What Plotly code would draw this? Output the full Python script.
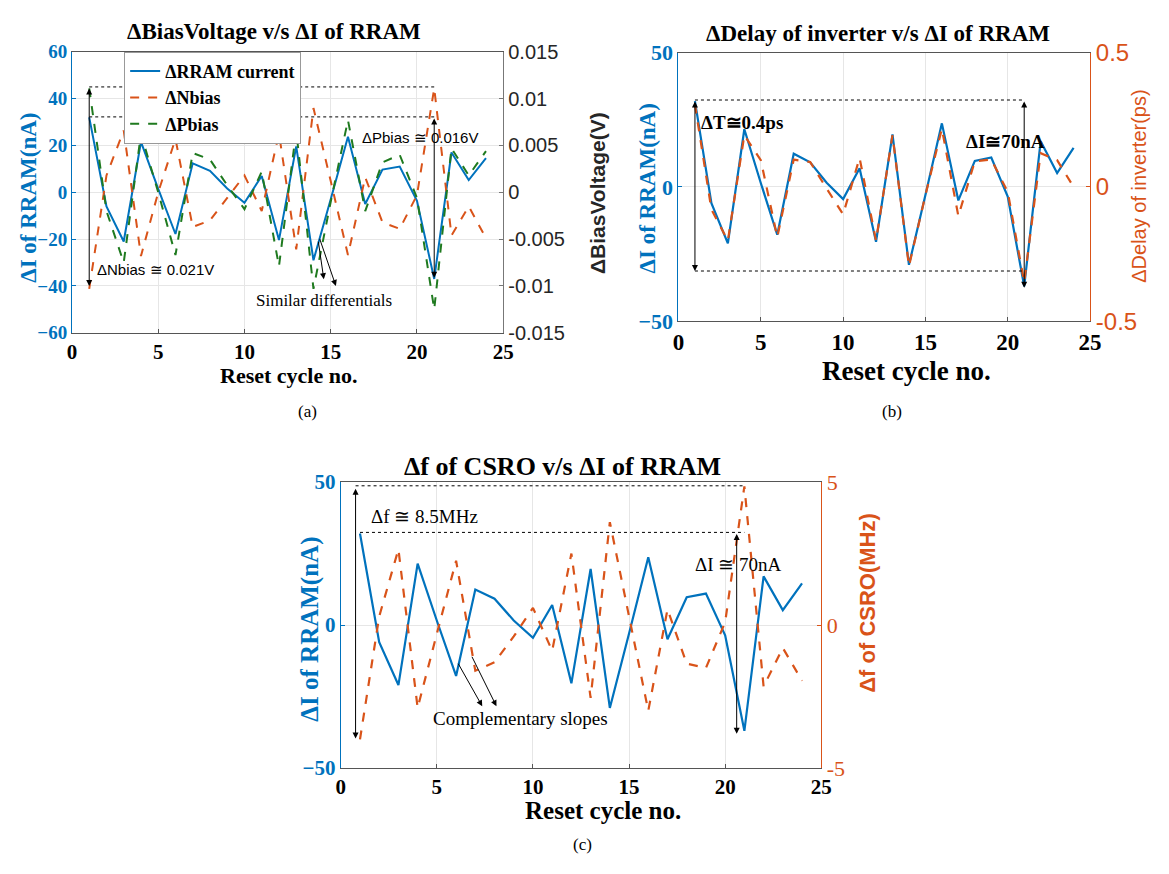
import plotly.graph_objects as go

# ---------------- data ----------------
cycles = list(range(1, 25))
rram_current = [32, -6, -21, 21.5, 1.5, -17.8, 12.4, 9.2, 1.6, -4.5, 7.0, -20.4,
                19.6, -29, -3, 23.7, -5, 9.7, 11, -3.6, -37, 17, 5.2, 14.6]
nbias = [-0.0103, 0.0018, 0.0066, -0.0068, 0.0, 0.0057, -0.0037, -0.0030, -0.0006,
         0.0018, -0.0020, 0.0063, -0.0061, 0.0090, 0.0012, -0.0067, 0.0016, -0.0032,
         -0.0039, -0.0003, 0.0111, -0.0046, -0.0015, -0.0049]
pbias = [0.0111, -0.0020, -0.0075, 0.00625, 0.0, -0.0067, 0.0042, 0.0035, 0.00075,
         -0.0018, 0.0022, -0.0079, 0.0066, -0.0103, -0.0010, 0.0077, -0.0020, 0.0032,
         0.0040, -0.0006, -0.0125, 0.0047, 0.0018, 0.0044]
delay_ps = [0.307, -0.084, -0.20, 0.193, 0.10, -0.187, 0.102, 0.093, -0.006, -0.102,
            0.108, -0.20, 0.193, -0.295, -0.03, 0.217, -0.108, 0.096, 0.102, -0.018,
            -0.355, 0.126, 0.10, 0.0]
freq_mhz = [-4.0, 0.3, 2.65, -2.9, -0.3, 2.25, -1.6, -1.3, -0.4, 0.6, -0.9, 2.5,
            -2.55, 3.6, 0.3, -3.0, 0.55, -1.35, -1.5, 0.1, 4.85, -2.15, -0.8, -1.95]

BLUE = "#0072BD"
ORANGE = "#D95319"
GREEN = "#1f7a1f"
SERIF = "Liberation Serif, Times New Roman, serif"
SANS = "Liberation Sans, Arial, sans-serif"
W, H = 1169, 874


def px(x):
    return x / W


def py(y):
    return 1 - y / H


fig = go.Figure()

# panel (a)
fig.add_trace(go.Scatter(x=cycles, y=rram_current, mode="lines", name="ΔRRAM current",
                         line=dict(color=BLUE, width=2), xaxis="x", yaxis="y"))
fig.add_trace(go.Scatter(x=cycles, y=nbias, mode="lines", name="ΔNbias",
                         line=dict(color=ORANGE, width=2, dash="dash"), xaxis="x", yaxis="y2"))
fig.add_trace(go.Scatter(x=cycles, y=pbias, mode="lines", name="ΔPbias",
                         line=dict(color=GREEN, width=2, dash="dash"), xaxis="x", yaxis="y2"))
# panel (b)
fig.add_trace(go.Scatter(x=cycles, y=rram_current, mode="lines", showlegend=False,
                         line=dict(color=BLUE, width=2.2), xaxis="x2", yaxis="y3"))
fig.add_trace(go.Scatter(x=cycles, y=delay_ps, mode="lines", showlegend=False,
                         line=dict(color=ORANGE, width=2.2, dash="dash"), xaxis="x2", yaxis="y4"))
# panel (c)
fig.add_trace(go.Scatter(x=cycles, y=rram_current, mode="lines", showlegend=False,
                         line=dict(color=BLUE, width=2.2), xaxis="x3", yaxis="y5"))
fig.add_trace(go.Scatter(x=cycles, y=freq_mhz, mode="lines", showlegend=False,
                         line=dict(color=ORANGE, width=2.2, dash="dash"), xaxis="x3", yaxis="y6"))

GRID = "#e6e6e6"
dom_a = dict(x=[px(67), px(505)], y=[py(329), py(39)])
dom_b = dict(x=[px(683), px(1101)], y=[py(317), py(40)])
dom_c = dict(x=[px(340), px(828)], y=[py(778), py(483)])


def xax(dom, anchor, size):
    return dict(domain=dom, anchor=anchor, range=[0, 25], dtick=5, tick0=0,
                showgrid=True, gridcolor=GRID, zeroline=False,
                showline=True, linecolor="#555", mirror=True, linewidth=1,
                ticks="inside", ticklen=4, tickcolor="#555",
                tickfont=dict(family=SERIF, size=size, color="black", weight="bold"))


fig.update_layout(
    width=W, height=H, margin=dict(l=0, r=0, t=0, b=0),
    paper_bgcolor="white", plot_bgcolor="white",
    xaxis=xax(dom_a["x"], "y", 21),
    yaxis=dict(domain=dom_a["y"], anchor="x", range=[-60, 60], dtick=20,
               showgrid=True, gridcolor=GRID, zeroline=False,
               showline=True, linecolor=BLUE, linewidth=1, ticks="inside", ticklen=4,
               tickcolor=BLUE,
               tickfont=dict(family=SERIF, size=19, color=BLUE, weight="bold")),
    yaxis2=dict(overlaying="y", anchor="x", side="right", range=[-0.015, 0.015],
                tickvals=[-0.015, -0.01, -0.005, 0, 0.005, 0.01, 0.015],
                ticktext=["-0.015", "-0.01", "-0.005", "0", "0.005", "0.01", "0.015"],
                showgrid=False, zeroline=False, showline=True, linecolor="#777",
                ticks="inside", ticklen=4, tickcolor="#777",
                tickfont=dict(family=SANS, size=20, color="#262626")),
    xaxis2=xax(dom_b["x"], "y3", 23),
    yaxis3=dict(domain=dom_b["y"], anchor="x2", range=[-50, 50], dtick=50,
                showgrid=True, gridcolor=GRID, zeroline=False,
                showline=True, linecolor=BLUE, linewidth=1, ticks="inside", ticklen=4,
                tickcolor=BLUE,
                tickfont=dict(family=SERIF, size=22, color=BLUE, weight="bold")),
    yaxis4=dict(overlaying="y3", anchor="x2", side="right", range=[-0.5, 0.5],
                tickvals=[-0.5, 0, 0.5], ticktext=["-0.5", "0", "0.5"],
                showgrid=False, zeroline=False, showline=True, linecolor=ORANGE,
                ticks="inside", ticklen=4, tickcolor=ORANGE,
                tickfont=dict(family=SANS, size=24, color=ORANGE)),
    xaxis3=xax(dom_c["x"], "y5", 21),
    yaxis5=dict(domain=dom_c["y"], anchor="x3", range=[-50, 50], dtick=50,
                showgrid=True, gridcolor=GRID, zeroline=False,
                showline=True, linecolor=BLUE, linewidth=1, ticks="inside", ticklen=4,
                tickcolor=BLUE,
                tickfont=dict(family=SERIF, size=21, color=BLUE, weight="bold")),
    yaxis6=dict(overlaying="y5", anchor="x3", side="right", range=[-5, 5],
                tickvals=[-5, 0, 5], ticktext=["-5", "0", "5"],
                showgrid=False, zeroline=False, showline=True, linecolor=ORANGE,
                ticks="inside", ticklen=4, tickcolor=ORANGE,
                tickfont=dict(family=SERIF, size=22, color=ORANGE)),
    legend=dict(x=px(120), y=py(39), xanchor="left", yanchor="top",
                bgcolor="white", bordercolor="#999", borderwidth=1,
                font=dict(family=SERIF, size=18, color="black", weight="bold"),
                itemwidth=30, tracegroupgap=0),
)

ann = []


def text(x, y, t, font, xref="paper", yref="paper", angle=0, xanchor="center"):
    ann.append(dict(x=x, y=y, xref=xref, yref=yref, text=t, showarrow=False,
                    font=font, textangle=angle, xanchor=xanchor, yanchor="middle"))


def arrow(x0, y0, x1, y1, xr, yr, both=False):
    ann.append(dict(x=x1, y=y1, ax=x0, ay=y0, xref=xr, yref=yr, axref=xr, ayref=yr,
                    text="", showarrow=True, arrowhead=2, arrowsize=1.2, arrowwidth=1,
                    arrowcolor="black", arrowside="end+start" if both else "end"))


# titles
text(px(272), py(18), "ΔBiasVoltage v/s ΔI of RRAM", dict(family=SERIF, size=23, color="black", weight="bold"))
text(px(886), py(20), "ΔDelay of inverter v/s ΔI of RRAM", dict(family=SERIF, size=23, color="black", weight="bold"))
text(px(565), py(467), "Δf of CSRO v/s ΔI of RRAM", dict(family=SERIF, size=26, color="black", weight="bold"))

# x axis titles
text(px(287), py(373), "Reset cycle no.", dict(family=SERIF, size=22, color="black", weight="bold"))
text(px(915), py(368), "Reset cycle no.", dict(family=SERIF, size=27, color="black", weight="bold"))
text(px(606), py(822), "Reset cycle no.", dict(family=SERIF, size=25, color="black", weight="bold"))

# left y titles
text(px(22), py(190), "ΔI of RRAM(nA)", dict(family=SERIF, size=23, color=BLUE, weight="bold"), angle=-90)
text(px(651), py(180), "ΔI of RRAM(nA)", dict(family=SERIF, size=23, color=BLUE, weight="bold"), angle=-90)
text(px(309), py(635), "ΔI of RRAM(nA)", dict(family=SERIF, size=25, color=BLUE, weight="bold"), angle=-90)

# right y titles
text(px(601), py(185), "ΔBiasVoltage(V)", dict(family=SANS, size=21, color="#262626", weight="bold"), angle=-90)
text(px(1150), py(178), "ΔDelay of inverter(ps)", dict(family=SANS, size=20, color=ORANGE), angle=-90)
text(px(875), py(608), "Δf of CSRO(MHz)", dict(family=SANS, size=22, color=ORANGE, weight="bold"), angle=-90)

# panel labels
text(px(306), py(410), "(a)", dict(family=SERIF, size=17, color="black"))
text(px(900), py(410), "(b)", dict(family=SERIF, size=17, color="black"))
text(px(586), py(857), "(c)", dict(family=SERIF, size=17, color="black"))

# panel (a) annotations
text(4.85, -32.9, "ΔNbias ≅ 0.021V", dict(family=SANS, size=15, color="black"), "x", "y")
text(20.15, 23.2, "ΔPbias ≅ 0.016V", dict(family=SANS, size=15, color="black"), "x", "y")
text(14.6, -46, "Similar differentials", dict(family=SERIF, size=17, color="black"), "x", "y")
arrow(1, 45, 1, -40, "x", "y", both=True)
arrow(21, 32.2, 21, -36.5, "x", "y", both=True)
arrow(14.27, -20.4, 14.6, -37.1, "x", "y")
arrow(14.33, -19.2, 15.3, -40, "x", "y")

# panel (b) annotations
text(3.83, 24, "ΔT≅0.4ps", dict(family=SERIF, size=19, color="black", weight="bold"), "x2", "y3")
text(19.86, 17.1, "ΔI≅70nA", dict(family=SERIF, size=19, color="black", weight="bold"), "x2", "y3")
arrow(1, 32.4, 1, -31.3, "x2", "y3", both=True)
arrow(21, 32.4, 21, -37.5, "x2", "y3", both=True)

# panel (c) annotations
text(4.37, 38, "Δf ≅ 8.5MHz", dict(family=SERIF, size=19, color="black"), "x3", "y5")
text(20.7, 21, "ΔI ≅ 70nA", dict(family=SERIF, size=19, color="black"), "x3", "y5")
text(9.36, -32.6, "Complementary slopes", dict(family=SERIF, size=19, color="black"), "x3", "y5")
arrow(0.77, 48.2, 0.77, -39.7, "x3", "y5", both=True)
arrow(20.6, 32.4, 20.6, -38, "x3", "y5", both=True)
arrow(6.07, -13, 7.36, -28.4, "x3", "y5")
arrow(6.79, -10.6, 8.1, -28.4, "x3", "y5")

fig.update_layout(annotations=ann)

# dotted guide lines
dot = dict(color="black", width=1, dash="dot")
shapes = [
    dict(type="line", xref="x", yref="y", x0=1, x1=21, y0=45, y1=45, line=dot),
    dict(type="line", xref="x", yref="y", x0=1, x1=21, y0=32.2, y1=32.2, line=dot),
    dict(type="line", xref="x2", yref="y3", x0=1, x1=21, y0=32.4, y1=32.4, line=dot),
    dict(type="line", xref="x2", yref="y3", x0=1, x1=21, y0=-31.3, y1=-31.3, line=dot),
    dict(type="line", xref="x3", yref="y5", x0=0.77, x1=21, y0=48.7, y1=48.7, line=dot),
    dict(type="line", xref="x3", yref="y5", x0=1, x1=21, y0=32.4, y1=32.4, line=dot),
]
fig.update_layout(shapes=shapes)

fig.write_html("out.html",
               post_script="document.body.style.margin='0';document.body.style.overflow='hidden';")
